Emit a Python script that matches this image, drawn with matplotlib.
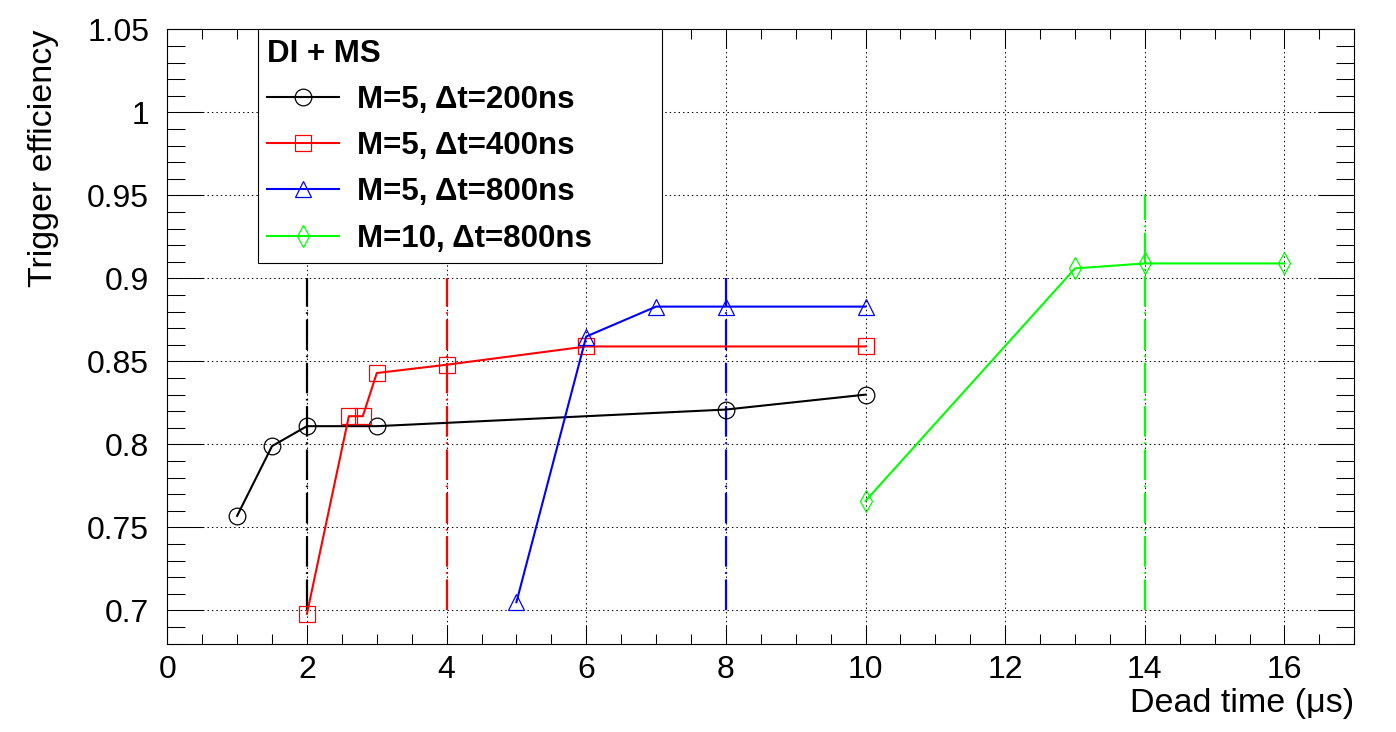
import matplotlib
matplotlib.use("Agg")
import matplotlib.pyplot as plt
from matplotlib.ticker import FixedLocator, MultipleLocator

plt.rcParams['font.family'] = ['Liberation Sans', 'DejaVu Sans']
plt.rcParams['lines.scale_dashes'] = False

# ---- data ----
x_m5_200 = [1, 1.5, 2, 3, 8, 10]
y_m5_200 = [0.757, 0.799, 0.811, 0.811, 0.821, 0.830]

x_m5_400 = [2, 2.6, 2.8, 3, 4, 6, 10]
y_m5_400 = [0.698, 0.817, 0.817, 0.843, 0.848, 0.859, 0.859]

x_m5_800 = [5, 6, 7, 8, 10]
y_m5_800 = [0.705, 0.865, 0.883, 0.883, 0.883]

x_m10_800 = [10, 13, 14, 16]
y_m10_800 = [0.766, 0.906, 0.909, 0.909]

labels = ["M=5, \u0394t=200ns", "M=5, \u0394t=400ns", "M=5, \u0394t=800ns", "M=10, \u0394t=800ns"]
colors = ["black", "#ff0000", "#0000ff", "#00ff00"]
markers = ["o", "s", "^", "d"]

vline_x = [2, 4, 8, 14]
vline_bottom = [0.7, 0.7, 0.7, 0.7]
vline_top = [0.9, 0.9, 0.9, 0.95]

xticks = [0, 2, 4, 6, 8, 10, 12, 14, 16]
yticks = [0.7, 0.75, 0.8, 0.85, 0.9, 0.95, 1.0, 1.05]
ytick_labels = ["0.7", "0.75", "0.8", "0.85", "0.9", "0.95", "1", "1.05"]

# ---- figure ----
fig = plt.figure(figsize=(13.96, 7.32), dpi=100)
ax = fig.add_axes([167.3 / 1396, 1 - 643.7 / 732, (1354.3 - 167.3) / 1396, (643.7 - 29.3) / 732])

ax.set_xlim(0, 17)
ax.set_ylim(0.68, 1.05)

ax.xaxis.set_major_locator(FixedLocator(xticks))
ax.xaxis.set_minor_locator(MultipleLocator(0.5))
ax.yaxis.set_major_locator(FixedLocator(yticks))
ax.yaxis.set_minor_locator(MultipleLocator(0.01))
ax.set_xticklabels([str(v) for v in xticks])
ax.set_yticklabels(ytick_labels)

ax.grid(True, which='major', color='black', linestyle=(0, (1.0, 2.2)), linewidth=0.75, zorder=0)
ax.set_axisbelow(True)

ax.tick_params(which='both', direction='in', top=True, right=True, width=0.75,
               labelsize=23, colors='black')
ax.tick_params(axis='x', which='major', length=13.7, pad=8)
ax.tick_params(axis='x', which='minor', length=7)
ax.tick_params(axis='y', which='major', length=26, pad=13)
ax.tick_params(axis='y', which='minor', length=13)
for s in ax.spines.values():
    s.set_linewidth(0.8)

series = [(x_m5_200, y_m5_200), (x_m5_400, y_m5_400), (x_m5_800, y_m5_800), (x_m10_800, y_m10_800)]
handles = []
for (xs, ys), c, m, lab in zip(series, colors, markers, labels):
    ms = 12 if m != 'd' else 11
    h, = ax.plot(xs, ys, color=c, lw=1.5, marker=m, markersize=ms,
                 markerfacecolor='none', markeredgecolor=c, markeredgewidth=0.9,
                 label=lab, zorder=3)
    handles.append(h)

for xv, yb, yt, c in zip(vline_x, vline_bottom, vline_top, colors):
    ax.vlines(xv, yb, yt, colors=c, linewidth=1.6,
              linestyles=[(0, (22, 4, 1.2, 4))], zorder=2)

ax.set_ylabel("Trigger efficiency", fontsize=24.5, loc='top', labelpad=20)
ax.set_xlabel("Dead time (\u03bcs)", fontsize=24.5, loc='right', labelpad=2)

leg = ax.legend(handles=handles, labels=labels, title="DI + MS",
                loc='upper left', bbox_to_anchor=((258 - 167.3) / 1187, 1.0, (662 - 258) / 1187, 0.0),
                mode='expand', borderaxespad=0.0, fancybox=False, shadow=False,
                framealpha=1.0, edgecolor='black',
                title_fontproperties={'weight': 'bold', 'size': 22.5},
                prop={'weight': 'bold', 'size': 22.5},
                handlelength=2.3, handletextpad=0.58, labelspacing=0.52,
                borderpad=0.3, alignment='left')
leg.get_frame().set_linewidth(0.8)
leg.set_zorder(5)

fig.savefig("out.png", dpi=100, facecolor='white')
